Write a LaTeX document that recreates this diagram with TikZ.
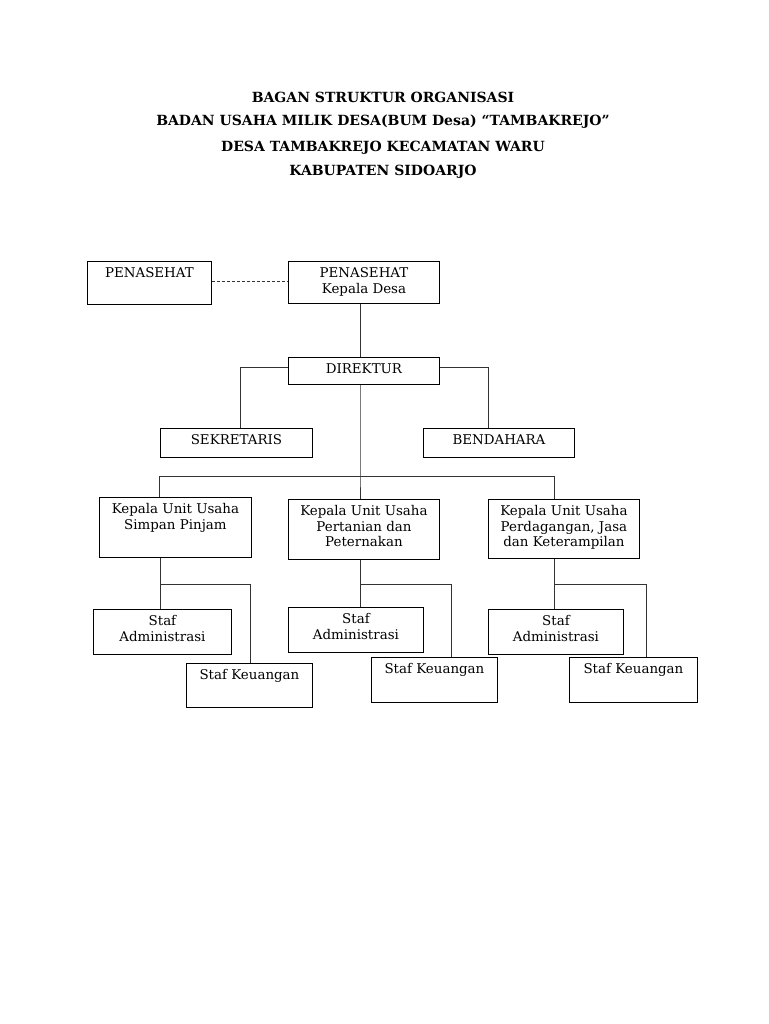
\documentclass[tikz,border=0pt]{standalone}
\usepackage{fontspec}
\setmainfont{DejaVu Serif}
\usetikzlibrary{calc}
\tikzset{
  box/.style={draw=black, line width=0.9pt, anchor=north west, inner sep=0pt},
  lbl/.style={anchor=north, yshift=-6.5pt, align=center, inner sep=0pt, font=\fontsize{13.4}{15.5}\selectfont},
  conn/.style={draw=black!80, line width=0.8pt},
  ttl/.style={font=\fontsize{14}{16}\selectfont\bfseries, inner sep=0pt}
}
\begin{document}
\begin{tikzpicture}[x=1pt,y=-1pt]
\useasboundingbox[fill=white] (0,0) rectangle (768,1024);
% title
\node[ttl] (t1) at (383,97) {BAGAN STRUKTUR ORGANISASI};
\node[ttl] (t2) at (383,121.5) {BADAN USAHA MILIK DESA(BUM Desa) “TAMBAKREJO”};
\node[ttl] (t3) at (383,147.5) {DESA TAMBAKREJO KECAMATAN WARU};
\node[ttl] (t4) at (383,171.5) {KABUPATEN SIDOARJO};
% boxes
\node[box, minimum width=124pt, minimum height=43pt, label={[lbl,name=l1]north:PENASEHAT}] (pen) at (87,261) {};
\node[box, minimum width=151pt, minimum height=42pt, label={[lbl,name=l2]north:PENASEHAT\\Kepala Desa}] (kd) at (288,261) {};
\node[box, minimum width=151pt, minimum height=27pt, label={[lbl,name=l3]north:DIREKTUR}] (dir) at (288,357) {};
\node[box, minimum width=152pt, minimum height=29pt, label={[lbl,name=l4]north:SEKRETARIS}] (sek) at (160,428) {};
\node[box, minimum width=151pt, minimum height=29pt, label={[lbl,name=l5]north:BENDAHARA}] (ben) at (423,428) {};
\node[box, minimum width=152pt, minimum height=60pt, label={[lbl,name=l6]north:Kepala Unit Usaha\\Simpan Pinjam}] (k1) at (99,497) {};
\node[box, minimum width=151pt, minimum height=60pt, label={[lbl,name=l7]north:Kepala Unit Usaha\\Pertanian dan\\Peternakan}] (k2) at (288,499) {};
\node[box, minimum width=151pt, minimum height=59pt, label={[lbl,name=l8]north:Kepala Unit Usaha\\Perdagangan, Jasa\\dan Keterampilan}] (k3) at (488,499) {};
\node[box, minimum width=138pt, minimum height=45pt, label={[lbl,name=l9]north:Staf\\Administrasi}] (sa1) at (93,609) {};
\node[box, minimum width=126pt, minimum height=44pt, label={[lbl,name=l10]north:Staf Keuangan}] (sk1) at (186,663) {};
\node[box, minimum width=135pt, minimum height=45pt, label={[lbl,name=l11]north:Staf\\Administrasi}] (sa2) at (288,607) {};
\node[box, minimum width=126pt, minimum height=45pt, label={[lbl,name=l12]north:Staf Keuangan}] (sk2) at (371,657) {};
\node[box, minimum width=135pt, minimum height=45pt, label={[lbl,name=l13]north:Staf\\Administrasi}] (sa3) at (488,609) {};
\node[box, minimum width=128pt, minimum height=45pt, label={[lbl,name=l14]north:Staf Keuangan}] (sk3) at (569,657) {};
% connector coordinates
\coordinate (bar) at (360,476);
\coordinate (b1) at (159,476);
\coordinate (b3) at (554,476);
\coordinate (sx) at (240,367);
\coordinate (bx) at (488,367);
\coordinate (u1) at (160,584);
\coordinate (v1) at (250,584);
\coordinate (u2) at (360,584);
\coordinate (v2) at (451,584);
\coordinate (u3) at (554,584);
\coordinate (v3) at (646,584);
% connectors
\draw[conn, dash pattern=on 3pt off 2pt] (pen.east |- 0,281) -- (kd.west |- 0,281);
\draw[conn] (kd.south -| bar) -- (dir.north -| bar);
\draw[conn] (dir.west |- sx) -- (sx) -- (sx |- sek.north);
\draw[conn] (dir.east |- bx) -- (bx) -- (bx |- ben.north);
\draw[conn] (dir.south -| bar) -- (bar) -- (bar |- k2.north);
\draw[conn] (b1 |- k1.north) -- (b1) -- (b3) -- (b3 |- k3.north);
\draw[conn] (k1.south -| u1) -- (u1 |- sa1.north);
\draw[conn] (u1) -- (v1) -- (v1 |- sk1.north);
\draw[conn] (k2.south -| u2) -- (u2 |- sa2.north);
\draw[conn] (u2) -- (v2) -- (v2 |- sk2.north);
\draw[conn] (k3.south -| u3) -- (u3 |- sa3.north);
\draw[conn] (u3) -- (v3) -- (v3 |- sk3.north);
\end{tikzpicture}
\end{document}
